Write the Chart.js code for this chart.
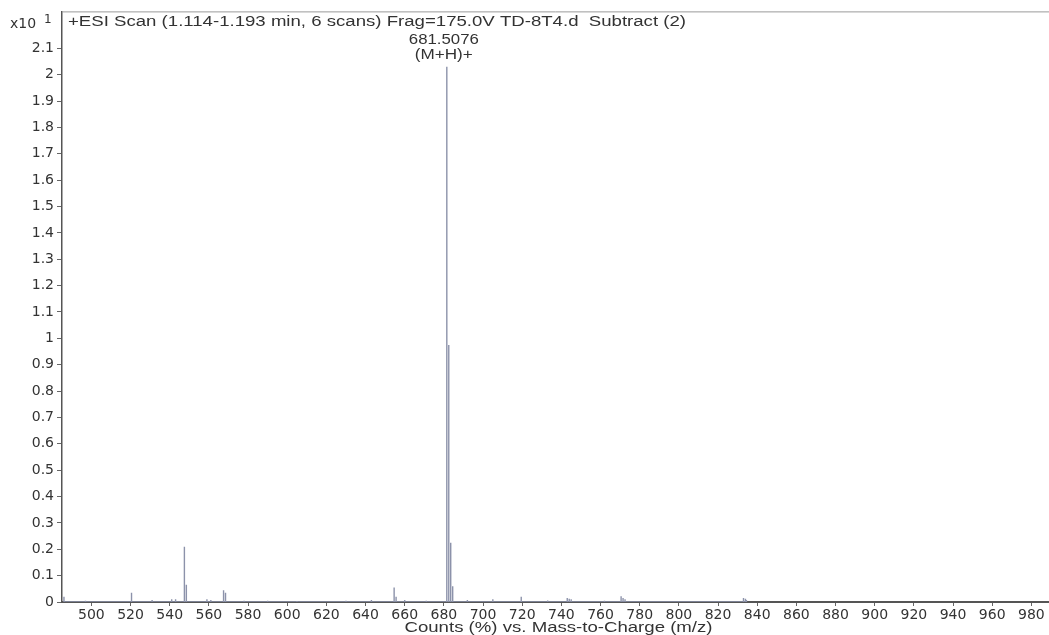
<!DOCTYPE html>
<html>
<head>
<meta charset="utf-8">
<script src="https://cdn.jsdelivr.net/npm/chart.js@4/dist/chart.umd.min.js"></script>
<style>
html,body{margin:0;padding:0;background:#fff;}
#wrap{position:relative;width:1049px;height:635px;}
</style>
</head>
<body>
<div id="wrap"><canvas id="c" width="1049" height="635"></canvas></div>
<script>
// Peak m/z positions and intensities (Counts x10^1)
const peakMz = [486, 497, 520.5, 531, 541, 543, 547.5, 548.5, 559, 561, 567.5, 568.5, 578, 590, 605, 630, 643, 654.6, 655.6, 660, 671, 681.5, 682.5, 683.5, 684.5, 692, 705, 719.5, 733, 743, 744, 745, 762, 770.5, 771.5, 772.5, 833, 834, 834.5];
const peakIntensity = [0.02, 0.005, 0.035, 0.008, 0.01, 0.01, 0.21, 0.065, 0.01, 0.008, 0.045, 0.035, 0.005, 0.005, 0.004, 0.005, 0.008, 0.055, 0.02, 0.008, 0.005, 2.03, 0.975, 0.225, 0.06, 0.008, 0.01, 0.02, 0.006, 0.015, 0.012, 0.01, 0.005, 0.022, 0.015, 0.01, 0.015, 0.012, 0.008];
const xTickValues = [500, 520, 540, 560, 580, 600, 620, 640, 660, 680, 700, 720, 740, 760, 780, 800, 820, 840, 860, 880, 900, 920, 940, 960, 980];
const yTickValues = [0, 0.1, 0.2, 0.3, 0.4, 0.5, 0.6, 0.7, 0.8, 0.9, 1, 1.1, 1.2, 1.3, 1.4, 1.5, 1.6, 1.7, 1.8, 1.9, 2, 2.1];
const headerText = '+ESI Scan (1.114-1.193 min, 6 scans) Frag=175.0V TD-8T4.d  Subtract (2)';
const xTitle = 'Counts (%) vs. Mass-to-Charge (m/z)';
const peakLabelMz = 681.5;
const peakLabelLines = ['681.5076', '(M+H)+'];

const stickData = [];
peakMz.forEach((m, i) => {
  stickData.push({x: m, y: 0});
  stickData.push({x: m, y: peakIntensity[i]});
  stickData.push({x: m, y: 0});
});

const FONT = '"Liberation Sans", Arial, sans-serif';
const TICKFONT = '"DejaVu Sans", sans-serif';

function stretchText(ctx, text, x, y, width, align) {
  const w = ctx.measureText(text).width;
  const sx = width / w;
  ctx.save();
  let left = x;
  if (align === 'center') left = x - width / 2;
  ctx.translate(left, y);
  ctx.scale(sx, 1);
  ctx.textAlign = 'left';
  ctx.fillText(text, 0, 0);
  ctx.restore();
}

const annot = {
  id: 'annot',
  afterDraw(chart) {
    const ctx = chart.ctx;
    const a = chart.chartArea;
    const xs = chart.scales.x;
    ctx.save();
    // top frame
    ctx.strokeStyle = '#9a9a9a';
    ctx.lineWidth = 1;
    ctx.beginPath();
    ctx.moveTo(a.left, a.top + 0.5);
    ctx.lineTo(a.right, a.top + 0.5);
    ctx.stroke();
    ctx.fillStyle = '#333';
    ctx.textBaseline = 'middle';
    ctx.font = '14px ' + FONT;
    stretchText(ctx, headerText, a.left + 6, 22, 618, 'left');
    // multiplier
    ctx.font = '14px ' + TICKFONT;
    ctx.textAlign = 'left';
    ctx.fillText('x10', 10, 24);
    ctx.font = '12px ' + TICKFONT;
    ctx.fillText('1', 44, 20);
    // peak label
    ctx.font = '14px ' + FONT;
    const px = xs.getPixelForValue(peakLabelMz) - 3;
    stretchText(ctx, peakLabelLines[0], px, 40, 70, 'center');
    stretchText(ctx, peakLabelLines[1], px, 55, 58, 'center');
    // x axis title
    stretchText(ctx, xTitle, (a.left + a.right) / 2 + 3, 628, 308, 'center');
    ctx.restore();
  }
};

new Chart(document.getElementById('c'), {
  type: 'line',
  data: {
    datasets: [{
      data: stickData,
      borderColor: '#8c92aa',
      borderWidth: 1.4,
      pointRadius: 0,
      tension: 0,
      fill: false
    }]
  },
  options: {
    responsive: false,
    animation: false,
    events: [],
    layout: {padding: {top: 10, right: 0, left: 0, bottom: 0}},
    plugins: {legend: {display: false}, tooltip: {enabled: false}},
    scales: {
      x: {
        type: 'linear',
        min: 485,
        max: 989,
        afterBuildTicks: s => { s.ticks = xTickValues.map(v => ({value: v})); },
        afterFit: s => { s.height = 33; },
        grid: {display: true, drawOnChartArea: false, drawTicks: true, tickLength: 4, color: '#666', lineWidth: 1},
        border: {display: true, color: '#555', width: 2},
        ticks: {color: '#333', font: {family: TICKFONT, size: 14}, padding: 1, maxRotation: 0, autoSkip: false,
          callback: v => String(v)},
        title: {display: false}
      },
      y: {
        type: 'linear',
        min: 0,
        max: 2.24,
        afterBuildTicks: s => { s.ticks = yTickValues.map(v => ({value: v})); },
        afterFit: s => { s.width = 62; },
        grid: {display: true, drawOnChartArea: false, drawTicks: true, tickLength: 5, color: '#666', lineWidth: 1},
        border: {display: true, color: '#555', width: 1.5},
        ticks: {color: '#333', font: {family: TICKFONT, size: 14}, padding: 3, autoSkip: false,
          callback: v => String(parseFloat(Number(v).toFixed(1)))}
      }
    }
  },
  plugins: [annot]
});
</script>
</body>
</html>
